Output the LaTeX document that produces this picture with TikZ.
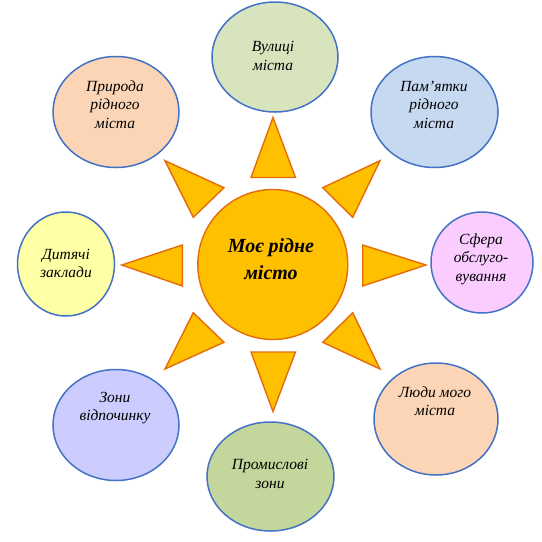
\documentclass[tikz,border=0pt]{standalone}
\usepackage{fontspec}
\setmainfont{Liberation Serif}
\newfontfamily\serifit{Liberation Serif}
\usetikzlibrary{shapes.geometric}
\definecolor{bord}{HTML}{4472C4}
\definecolor{sunfill}{HTML}{FFC000}
\definecolor{sunline}{HTML}{E46C0A}
\definecolor{cA}{HTML}{D7E4BD}
\definecolor{cB}{HTML}{C6D9F1}
\definecolor{cC}{HTML}{FACCFF}
\definecolor{cD}{HTML}{FBD5B5}
\definecolor{cE}{HTML}{C3D69B}
\definecolor{cF}{HTML}{CCCCFF}
\definecolor{cG}{HTML}{FFFFA6}
\definecolor{cH}{HTML}{FBD5B5}
\tikzset{
  bubble/.style={ellipse, draw=bord, line width=1.5pt, inner sep=0pt},
  ray/.style={fill=sunfill, draw=sunline, line width=1.4pt, line join=miter},
  lbl/.style={align=center, font=\serifit\fontsize{15.5}{18.5}\selectfont\itshape, inner sep=0pt},
  sunlbl/.style={align=center, font=\serifit\fontsize{20}{27}\selectfont\bfseries\itshape, inner sep=0pt}
}
\begin{document}
\begin{tikzpicture}[x=1pt,y=-1pt]
\useasboundingbox (0,0) rectangle (542,542);
% sun
\node[circle, fill=sunfill, draw=sunline, line width=1.4pt, minimum size=150pt, inner sep=0pt] (sun) at (272.8,264.5) {};
\node[sunlbl] (sunt) at (271,259) {Моє рідне\\місто};
% rays
\draw[ray] (273,117.5) -- (251,177.5) -- (295.5,177.5) -- cycle;
\draw[ray] (273,411.5) -- (251,352) -- (295.5,352) -- cycle;
\draw[ray] (121.7,265) -- (182.3,245) -- (182.3,286) -- cycle;
\draw[ray] (426,265) -- (362.7,245) -- (362.7,286) -- cycle;
\draw[ray] (165,160.7) -- (224,187.7) -- (193.3,217.3) -- cycle;
\draw[ray] (380,160.7) -- (322.7,187.7) -- (352.7,217.3) -- cycle;
\draw[ray] (165,369) -- (224,342.3) -- (193.3,312.7) -- cycle;
\draw[ray] (380,369) -- (322.7,342.3) -- (352.7,312.7) -- cycle;
% bubbles
\node[bubble, fill=cA, minimum width=126pt, minimum height=110pt] (top) at (275,57) {};
\node[lbl] (topt) at (273,56) {Вулиці\\міста};
\node[bubble, fill=cB, minimum width=127pt, minimum height=111pt] (tr) at (434.5,112) {};
\node[lbl] (trt) at (434,104.5) {Пам’ятки\\рідного\\міста};
\node[bubble, fill=cC, minimum width=102pt, minimum height=101pt] (rt) at (482,262.5) {};
\node[lbl] (rtt) at (481,259) {Сфера\\обслуго-\\вування};
\node[bubble, fill=cD, minimum width=124pt, minimum height=112pt] (br) at (436,419) {};
\node[lbl] (brt) at (435,401) {Люди мого\\міста};
\node[bubble, fill=cE, minimum width=127pt, minimum height=109pt] (bt) at (270.5,476.5) {};
\node[lbl] (btt) at (270,474) {Промислові\\зони};
\node[bubble, fill=cF, minimum width=126pt, minimum height=111pt] (bl) at (116,425) {};
\node[lbl] (blt) at (115,408) {Зони\\відпочинку};
\node[bubble, fill=cG, minimum width=97pt, minimum height=104pt] (lf) at (66,264) {};
\node[lbl] (lft) at (66,263.5) {Дитячі\\заклади};
\node[bubble, fill=cH, minimum width=126pt, minimum height=111pt] (tl) at (116,112) {};
\node[lbl] (tlt) at (115,104.5) {Природа\\рідного\\міста};
\end{tikzpicture}
\end{document}
